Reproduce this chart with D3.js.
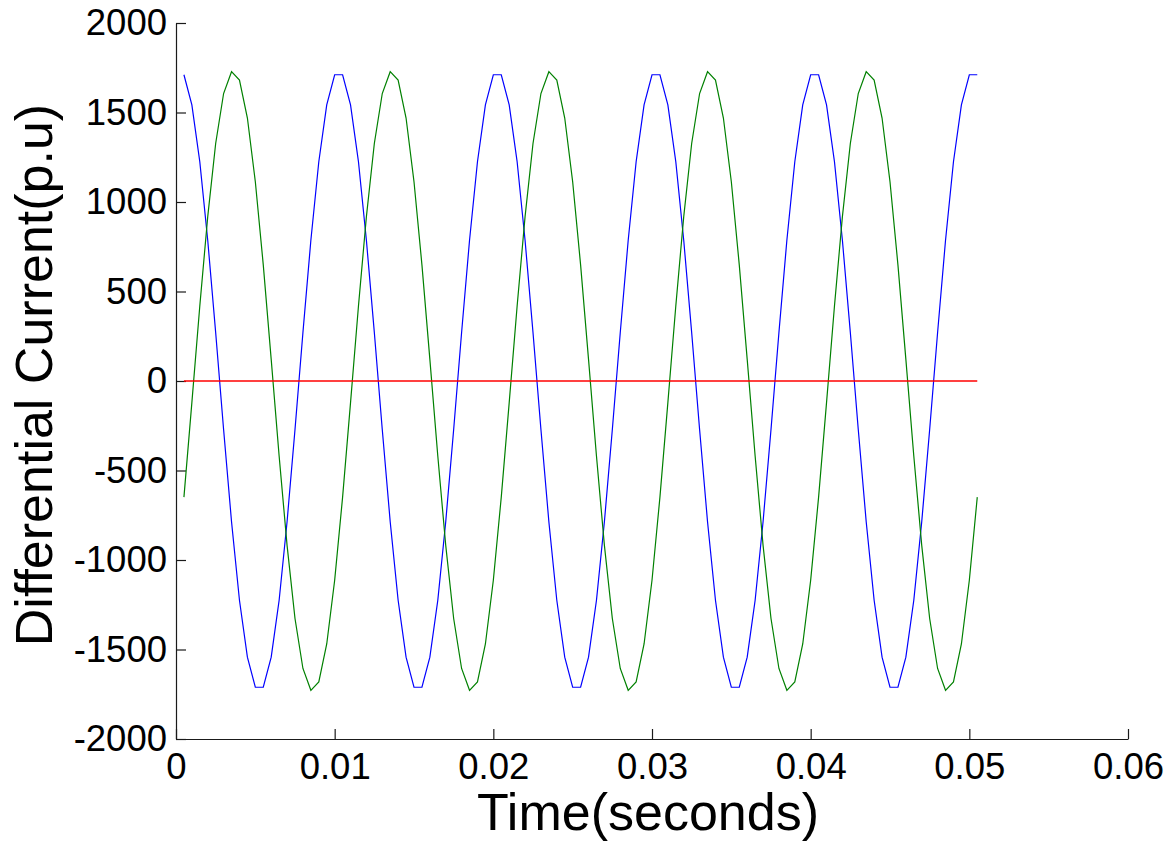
<!DOCTYPE html>
<html>
<head>
<meta charset="utf-8">
<script src="https://cdn.jsdelivr.net/npm/d3@7"></script>
<style>
  html, body { margin: 0; padding: 0; background: #fff; }
  svg { display: block; }
</style>
</head>
<body>
<svg id="chart" width="1172" height="841"></svg>
<script>
// ---- data ----
const time = [
  0.0005,0.0010,0.0015,0.0020,0.0025,0.0030,0.0035,0.0040,0.0045,0.0050,
  0.0055,0.0060,0.0065,0.0070,0.0075,0.0080,0.0085,0.0090,0.0095,0.0100,
  0.0105,0.0110,0.0115,0.0120,0.0125,0.0130,0.0135,0.0140,0.0145,0.0150,
  0.0155,0.0160,0.0165,0.0170,0.0175,0.0180,0.0185,0.0190,0.0195,0.0200,
  0.0205,0.0210,0.0215,0.0220,0.0225,0.0230,0.0235,0.0240,0.0245,0.0250,
  0.0255,0.0260,0.0265,0.0270,0.0275,0.0280,0.0285,0.0290,0.0295,0.0300,
  0.0305,0.0310,0.0315,0.0320,0.0325,0.0330,0.0335,0.0340,0.0345,0.0350,
  0.0355,0.0360,0.0365,0.0370,0.0375,0.0380,0.0385,0.0390,0.0395,0.0400,
  0.0405,0.0410,0.0415,0.0420,0.0425,0.0430,0.0435,0.0440,0.0445,0.0450,
  0.0455,0.0460,0.0465,0.0470,0.0475,0.0480,0.0485,0.0490,0.0495,0.0500,
  0.0505
];
const blueCurrent = [
  1711,1543,1225,786,271,-271,-786,-1225,-1543,-1711,-1711,-1543,-1225,-786,-271,271,786,1225,1543,1711,
  1711,1543,1225,786,271,-271,-786,-1225,-1543,-1711,-1711,-1543,-1225,-786,-271,271,786,1225,1543,1711,
  1711,1543,1225,786,271,-271,-786,-1225,-1543,-1711,-1711,-1543,-1225,-786,-271,271,786,1225,1543,1711,
  1711,1543,1225,786,271,-271,-786,-1225,-1543,-1711,-1711,-1543,-1225,-786,-271,271,786,1225,1543,1711,
  1711,1543,1225,786,271,-271,-786,-1225,-1543,-1711,-1711,-1543,-1225,-786,-271,271,786,1225,1543,1711,
  1711
];
const greenCurrent = [
  -649,-121,419,918,1327,1606,1728,1681,1469,1113,649,121,-419,-918,-1327,-1606,-1728,-1681,-1469,-1113,
  -649,-121,419,918,1327,1606,1728,1681,1469,1113,649,121,-419,-918,-1327,-1606,-1728,-1681,-1469,-1113,
  -649,-121,419,918,1327,1606,1728,1681,1469,1113,649,121,-419,-918,-1327,-1606,-1728,-1681,-1469,-1113,
  -649,-121,419,918,1327,1606,1728,1681,1469,1113,649,121,-419,-918,-1327,-1606,-1728,-1681,-1469,-1113,
  -649,-121,419,918,1327,1606,1728,1681,1469,1113,649,121,-419,-918,-1327,-1606,-1728,-1681,-1469,-1113,
  -649
];
const redCurrent = [
  0,0,0,0,0,0,0,0,0,0, 0,0,0,0,0,0,0,0,0,0,
  0,0,0,0,0,0,0,0,0,0, 0,0,0,0,0,0,0,0,0,0,
  0,0,0,0,0,0,0,0,0,0, 0,0,0,0,0,0,0,0,0,0,
  0,0,0,0,0,0,0,0,0,0, 0,0,0,0,0,0,0,0,0,0,
  0,0,0,0,0,0,0,0,0,0, 0,0,0,0,0,0,0,0,0,0,
  0
];
const xTicks = [0, 0.01, 0.02, 0.03, 0.04, 0.05, 0.06];
const xTickLabels = ["0", "0.01", "0.02", "0.03", "0.04", "0.05", "0.06"];
const yTicks = [-2000, -1500, -1000, -500, 0, 500, 1000, 1500, 2000];
const yTickLabels = ["-2000", "-1500", "-1000", "-500", "0", "500", "1000", "1500", "2000"];
const xLabel = "Time(seconds)";
const yLabel = "Differential Current(p.u)";

// ---- drawing ----
const svg = d3.select("#chart");
svg.append("rect").attr("width", 1172).attr("height", 841).attr("fill", "#fff");

const plotLeft = 176, plotRight = 1128, plotTop = 23, plotBottom = 739;
const x = d3.scaleLinear().domain([0, 0.06]).range([plotLeft, plotRight]);
const y = d3.scaleLinear().domain([-2000, 2000]).range([plotBottom, plotTop]);

const font = "Arial, 'Liberation Sans', Helvetica, sans-serif";

const xAxis = d3.axisBottom(x)
  .tickValues(xTicks)
  .tickFormat((d, i) => xTickLabels[i])
  .tickSizeInner(-10).tickSizeOuter(0).tickPadding(14);
const yAxis = d3.axisLeft(y)
  .tickValues(yTicks)
  .tickFormat((d, i) => yTickLabels[i])
  .tickSizeInner(-10).tickSizeOuter(0).tickPadding(9);

const gx = svg.append("g").attr("transform", `translate(0,${plotBottom})`).call(xAxis);
const gy = svg.append("g").attr("transform", `translate(${plotLeft},0)`).call(yAxis);
[gx, gy].forEach(g => {
  g.selectAll("path.domain").attr("stroke", "#1a1a1a").attr("stroke-width", 1.2);
  g.selectAll(".tick line").attr("stroke", "#1a1a1a").attr("stroke-width", 1.2);
  g.selectAll(".tick text").attr("fill", "#000").style("font-family", font).style("font-size", "36.5px");
});

const series = [
  { values: blueCurrent, color: "#0000ff", width: 1.2 },
  { values: greenCurrent, color: "#008000", width: 1.2 },
  { values: redCurrent, color: "#ff0000", width: 1.5 }
];
const line = d3.line().x(d => x(d[0])).y(d => y(d[1]));
series.forEach(s => {
  svg.append("path")
    .datum(time.map((t, i) => [t, s.values[i]]))
    .attr("fill", "none")
    .attr("stroke", s.color)
    .attr("stroke-width", s.width)
    .attr("d", line);
});

svg.append("text")
  .attr("x", (plotLeft + plotRight) / 2 - 4).attr("y", 830)
  .attr("text-anchor", "middle")
  .style("font-family", font).style("font-size", "52px")
  .attr("fill", "#000")
  .text(xLabel);

svg.append("text")
  .attr("transform", `translate(52,${(plotTop + plotBottom) / 2 - 6}) rotate(-90)`)
  .attr("text-anchor", "middle")
  .style("font-family", font).style("font-size", "52px")
  .attr("fill", "#000")
  .text(yLabel);
</script>
</body>
</html>
